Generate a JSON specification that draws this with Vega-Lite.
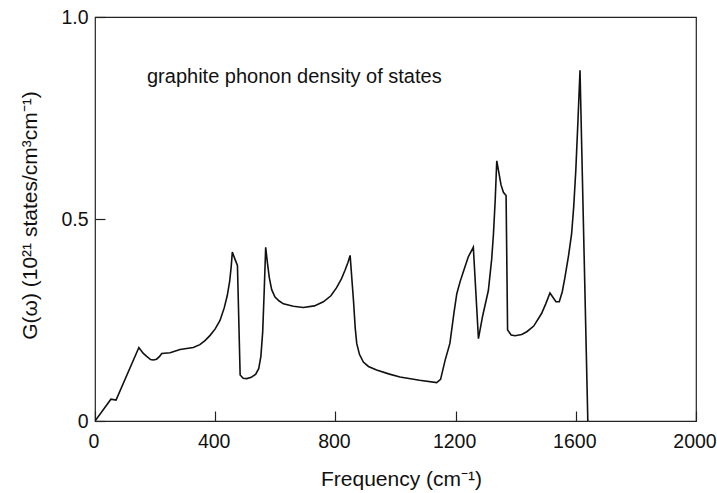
{
  "$schema": "https://vega.github.io/schema/vega-lite/v6.json",
  "width": 601,
  "height": 404,
  "autosize": {"type": "none"},
  "padding": {"left": 95, "top": 17, "right": 21, "bottom": 72},
  "background": "white",
  "config": {
    "view": {"stroke": "#222", "strokeWidth": 1.2},
    "font": "Liberation Sans"
  },
  "layer": [
    {
      "data": {"values": [
        {"f": 0, "g": 0},
        {"f": 53, "g": 0.054},
        {"f": 70, "g": 0.052},
        {"f": 146, "g": 0.182},
        {"f": 160, "g": 0.168},
        {"f": 172, "g": 0.160},
        {"f": 185, "g": 0.152},
        {"f": 194, "g": 0.151},
        {"f": 205, "g": 0.153},
        {"f": 215, "g": 0.160},
        {"f": 222, "g": 0.167},
        {"f": 250, "g": 0.169},
        {"f": 283, "g": 0.177},
        {"f": 327, "g": 0.182},
        {"f": 349, "g": 0.189},
        {"f": 366, "g": 0.199},
        {"f": 383, "g": 0.212},
        {"f": 400, "g": 0.228},
        {"f": 416, "g": 0.249},
        {"f": 430, "g": 0.280},
        {"f": 440, "g": 0.310},
        {"f": 448, "g": 0.345},
        {"f": 453, "g": 0.380},
        {"f": 457, "g": 0.418},
        {"f": 466, "g": 0.400},
        {"f": 474, "g": 0.385},
        {"f": 483, "g": 0.114},
        {"f": 493, "g": 0.106},
        {"f": 505, "g": 0.105},
        {"f": 520, "g": 0.108},
        {"f": 535, "g": 0.116},
        {"f": 545, "g": 0.130},
        {"f": 552, "g": 0.160},
        {"f": 558, "g": 0.220},
        {"f": 563, "g": 0.320},
        {"f": 568, "g": 0.430},
        {"f": 574, "g": 0.390},
        {"f": 580, "g": 0.355},
        {"f": 588, "g": 0.325},
        {"f": 599, "g": 0.307},
        {"f": 613, "g": 0.297},
        {"f": 627, "g": 0.290},
        {"f": 660, "g": 0.284},
        {"f": 693, "g": 0.281},
        {"f": 730, "g": 0.285},
        {"f": 760, "g": 0.295},
        {"f": 785, "g": 0.310},
        {"f": 804, "g": 0.330},
        {"f": 820, "g": 0.352},
        {"f": 832, "g": 0.373},
        {"f": 842, "g": 0.393},
        {"f": 849, "g": 0.410},
        {"f": 860, "g": 0.300},
        {"f": 866, "g": 0.230},
        {"f": 871, "g": 0.192},
        {"f": 880, "g": 0.165},
        {"f": 893, "g": 0.146},
        {"f": 910, "g": 0.135},
        {"f": 937, "g": 0.126},
        {"f": 980, "g": 0.116},
        {"f": 1015, "g": 0.109},
        {"f": 1080, "g": 0.101},
        {"f": 1137, "g": 0.095},
        {"f": 1150, "g": 0.103},
        {"f": 1165, "g": 0.150},
        {"f": 1181, "g": 0.192},
        {"f": 1195, "g": 0.270},
        {"f": 1204, "g": 0.315},
        {"f": 1215, "g": 0.345},
        {"f": 1226, "g": 0.370},
        {"f": 1242, "g": 0.406},
        {"f": 1259, "g": 0.430},
        {"f": 1276, "g": 0.204},
        {"f": 1290, "g": 0.260},
        {"f": 1309, "g": 0.323},
        {"f": 1320, "g": 0.400},
        {"f": 1326, "g": 0.463},
        {"f": 1332, "g": 0.550},
        {"f": 1337, "g": 0.644},
        {"f": 1351, "g": 0.585},
        {"f": 1359, "g": 0.566},
        {"f": 1368, "g": 0.558},
        {"f": 1373, "g": 0.225},
        {"f": 1385, "g": 0.213},
        {"f": 1398, "g": 0.211},
        {"f": 1420, "g": 0.214},
        {"f": 1437, "g": 0.221},
        {"f": 1460, "g": 0.235},
        {"f": 1486, "g": 0.266},
        {"f": 1500, "g": 0.290},
        {"f": 1514, "g": 0.317},
        {"f": 1534, "g": 0.295},
        {"f": 1545, "g": 0.295},
        {"f": 1555, "g": 0.320},
        {"f": 1564, "g": 0.356},
        {"f": 1576, "g": 0.410},
        {"f": 1586, "g": 0.463},
        {"f": 1593, "g": 0.530},
        {"f": 1600, "g": 0.620},
        {"f": 1607, "g": 0.740},
        {"f": 1614, "g": 0.868},
        {"f": 1640, "g": 0}
      ]},
      "mark": {"type": "line", "color": "#111", "strokeWidth": 1.6, "clip": true},
      "encoding": {
        "x": {
          "field": "f", "type": "quantitative",
          "scale": {"domain": [0, 2000], "nice": false, "zero": false},
          "axis": {
            "values": [0, 400, 800, 1200, 1600, 2000],
            "format": "d",
            "title": "Frequency (cm⁻¹)",
            "grid": false, "domain": false,
            "tickSize": -10, "tickColor": "#222", "tickWidth": 1.2,
            "labelPadding": 21, "labelFontSize": 19.5, "labelColor": "#111",
            "labelFlush": false, "labelOffset": -1.5,
            "titleFontSize": 21, "titleFontWeight": "normal", "titleColor": "#111",
            "titleY": 64, "titleBaseline": "alphabetic", "titleX": 306
          }
        },
        "y": {
          "field": "g", "type": "quantitative",
          "scale": {"domain": [0, 1], "nice": false},
          "axis": {
            "values": [0, 0.5, 1],
            "labelExpr": "datum.value == 0 ? '0' : format(datum.value, '.1f')",
            "title": "G(ω) (10²¹ states/cm³cm⁻¹)",
            "grid": false, "domain": false,
            "tickSize": -10, "tickColor": "#222", "tickWidth": 1.2,
            "labelPadding": 17, "labelFontSize": 19.5, "labelColor": "#111",
            "labelFlush": false,
            "titleFontSize": 21, "titleFontWeight": "normal", "titleColor": "#111",
            "titleX": -65, "titleY": 198, "titleBaseline": "middle", "titleAlign": "center", "titleAngle": -90
          }
        }
      }
    },
    {
      "data": {"values": [{"label": "graphite phonon density of states", "lx": 173, "ly": 0.837}]},
      "mark": {"type": "text", "align": "left", "baseline": "alphabetic", "fontSize": 20, "color": "#111"},
      "encoding": {
        "text": {"field": "label"},
        "x": {"field": "lx", "type": "quantitative"},
        "y": {"field": "ly", "type": "quantitative"}
      }
    }
  ]
}
